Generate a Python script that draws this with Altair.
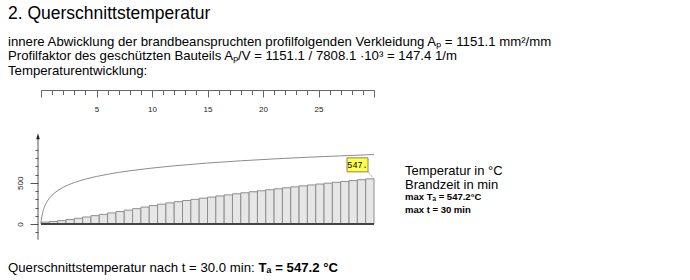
import altair as alt
import pandas as pd

# ---------------- data ----------------
# Einheitstemperaturkurve (Brandraum), Zeit in min / Temperatur in °C
iso_t = [0, 0.05, 0.1, 0.2, 0.3, 0.5, 0.75, 1, 1.5, 2, 3, 4, 5, 6, 8, 10, 12, 15, 18, 21, 24, 27, 30]
iso_T = [20, 70, 108, 163, 203, 261, 312, 349, 404, 445, 502, 544, 576, 603, 645, 678, 705, 739, 766, 789, 809, 826, 842]

# Querschnittstemperatur (Stahl), Zeitschritte in min
steel_t = [0, 0.75, 1.5, 2.25, 3, 3.75, 4.5, 5.25, 6, 6.75, 7.5, 8.25, 9, 9.75, 10.5, 11.25,
           12, 12.75, 13.5, 14.25, 15, 15.75, 16.5, 17.25, 18, 18.75, 19.5, 20.25, 21, 21.75,
           22.5, 23.25, 24, 24.75, 25.5, 26.25, 27, 27.75, 28.5, 29.25, 30]
steel_T = [20, 23, 30, 41, 54, 69, 85, 101, 117, 134, 151, 168, 186, 205, 223, 240, 256, 270.5,
           285, 299, 313, 326.5, 340, 353, 366, 378.5, 391, 403, 415, 427, 439, 450.5, 462, 473,
           484, 495, 505.5, 516, 526.5, 537, 547.2]

x_ticks = list(range(0, 31))
x_labels_shown = [5, 10, 15, 20, 25]
y_ticks = list(range(-100, 1000, 100))
y_labels_shown = [0, 500]
max_T = 547.2
max_t = 30

title_text = "2. Querschnittstemperatur"
line1 = "innere Abwicklung der brandbeanspruchten profilfolgenden Verkleidung Aₚ = 1151.1 mm²/mm"
line2 = "Profilfaktor des geschützten Bauteils Aₚ/V = 1151.1 / 7808.1 ·10³ = 147.4 1/m"
line3 = "Temperaturentwicklung:"
bottom = ["Querschnittstemperatur nach t = 30.0 min: ", "Tₐ = 547.2 °C"]
legend1 = "Temperatur in °C"
legend2 = "Brandzeit in min"
legend3 = "max Tₐ = 547.2°C"
legend4 = "max t = 30 min"
box_label = "547."

# ---------------- layout helpers ----------------
X0 = 41          # left of plot area (t = 0)
W = 333          # t = 0 .. 30
H = 280
K = 0.0825       # px per °C
Y0 = 224         # pixel of 0 °C
FONT = "Liberation Sans"

REG = {' ': 278, 'a': 556, 'b': 556, 'c': 500, 'd': 556, 'e': 556, 'f': 278, 'g': 556, 'h': 556,
       'i': 222, 'j': 222, 'k': 500, 'l': 222, 'm': 833, 'n': 556, 'o': 556, 'p': 556, 'q': 556,
       'r': 333, 's': 500, 't': 278, 'u': 556, 'v': 500, 'w': 722, 'x': 500, 'y': 500, 'z': 500,
       'ü': 556, 'A': 667, 'B': 667, 'P': 667, 'Q': 778, 'T': 611, 'V': 667, '.': 278, ':': 278,
       '=': 584, '/': 278}
for d in "0123456789":
    REG[d] = 556


def tw(s, size):
    return sum(REG.get(c, 556) for c in s) * size / 1000.0


one = pd.DataFrame({"k": [0]})


def txt(s, x, y, size=13.2, weight="normal", font=FONT, color="#000000", align="left", baseline="alphabetic"):
    return alt.Chart(one).mark_text(
        text=s, align=align, baseline=baseline, fontSize=size, fontWeight=weight,
        font=font, color=color
    ).encode(x=alt.value(x - X0), y=alt.value(y))


# ---------------- scales / axes ----------------
xs = alt.Scale(domain=[0, 30], nice=False, zero=False)
ys = alt.Scale(domain=[(Y0 - H) / K, Y0 / K], nice=False, zero=False)

x_axis = alt.Axis(
    orient="bottom", offset=90 - H, values=x_ticks, title=None, grid=False,
    domainColor="#666666", tickColor="#666666",
    tickSize={"condition": {"test": "datum.value % 5 === 0", "value": 7}, "value": 4.5},
    labelExpr="indexof(" + str(x_labels_shown) + ", datum.value) >= 0 ? datum.label : ''",
    labelFont=FONT, labelFontSize=8, labelColor="#222222", labelPadding=8.5,
)
y_axis = alt.Axis(
    orient="left", offset=3, values=y_ticks, title=None, grid=False, domain=False,
    tickColor="#555555",
    tickSize={"condition": {"test": "datum.value === 0 || datum.value === 500", "value": 8}, "value": 3},
    labelExpr="indexof(" + str(y_labels_shown) + ", datum.value) >= 0 ? datum.label : ''",
    labelAngle=270, labelAlign="center", labelBaseline="alphabetic",
    labelFont=FONT, labelFontSize=8, labelColor="#222222", labelPadding=8,
)


def XD(v):
    return alt.XDatum(v, scale=xs, axis=x_axis, type="quantitative")


def YD(v):
    return alt.YDatum(v, scale=ys, axis=y_axis, type="quantitative")


# ---------------- marks ----------------
bars_df = pd.DataFrame({
    "t0": steel_t[:-1],
    "t1": steel_t[1:],
    "T": steel_T[1:],
    "z": [0] * (len(steel_t) - 1),
})
bars = alt.Chart(bars_df).mark_rect(fill="#e6e6e6", stroke="#8e8e8e", strokeWidth=1).encode(
    x=alt.X("t0:Q", scale=xs, axis=x_axis),
    x2="t1:Q",
    y=alt.Y("z:Q", scale=ys, axis=y_axis),
    y2="T:Q",
)

iso_df = pd.DataFrame({"t": iso_t, "T": iso_T})
iso = alt.Chart(iso_df).mark_line(color="#8c8c8c", strokeWidth=1, interpolate="monotone").encode(
    x=alt.X("t:Q", scale=xs, axis=x_axis),
    y=alt.Y("T:Q", scale=ys, axis=y_axis),
)

base_line = alt.Chart(one).mark_rule(color="#444444", strokeWidth=2).encode(
    x=XD(0), x2=alt.X2Datum(max_t), y=YD(0)
)

y_line = alt.Chart(one).mark_rule(color="#555555", strokeWidth=1).encode(
    x=alt.value(-3), y=YD(1050), y2=alt.Y2Datum(-190)
)
arrow = alt.Chart(one).mark_point(
    shape="M0,-1L0.6,1L-0.6,1Z", filled=True, size=36, color="#222222", opacity=1
).encode(x=alt.value(-3), y=YD(1063))

box = alt.Chart(one).mark_rect(
    fill="#ffff4d", stroke="#8c8c3c", strokeWidth=1,
    xOffset=-27, x2Offset=-6, yOffset=-21, y2Offset=-7
).encode(
    x=XD(max_t), x2=alt.X2Datum(max_t),
    y=YD(max_T), y2=alt.Y2Datum(max_T),
)
box_txt = alt.Chart(one).mark_text(
    text=box_label, font="Liberation Mono", fontSize=8.5, color="#000000",
    align="center", baseline="middle", dx=-16.5, dy=-13.5
).encode(x=XD(max_t), y=YD(max_T))
leader = alt.Chart(one).mark_rule(
    color="#888888", strokeWidth=1, strokeDash=[1, 1],
    xOffset=-6, x2Offset=0, yOffset=-7, y2Offset=0
).encode(
    x=XD(max_t), x2=alt.X2Datum(max_t),
    y=YD(max_T), y2=alt.Y2Datum(max_T),
)

texts = [
    txt(title_text, 8, 19, 17.5),
    txt(line1, 8, 45.5, 13.2),
    txt(line2, 8, 60, 13.2),
    txt(line3, 8, 74.5, 13.2),
    txt(bottom[0], 8, 271.5, 13.2),
    txt(bottom[1], 8 + tw(bottom[0], 13.2), 271.5, 13.2, "bold"),
    txt(legend1, 405, 174.5, 13),
    txt(legend2, 405, 188.5, 13),
    txt(legend3, 405, 200, 9.5, "bold"),
    txt(legend4, 405, 212.5, 9.5, "bold"),
]

chart = alt.layer(
    bars, iso, base_line, y_line, arrow, leader, box, box_txt, *texts
).properties(
    width=W, height=H,
    padding={"left": X0, "top": 0, "right": 690 - X0 - W, "bottom": 0},
    autosize="none",
    background="#ffffff",
).configure_view(stroke=None)

chart.save("out.html", embed_options={"renderer": "svg", "actions": False})
